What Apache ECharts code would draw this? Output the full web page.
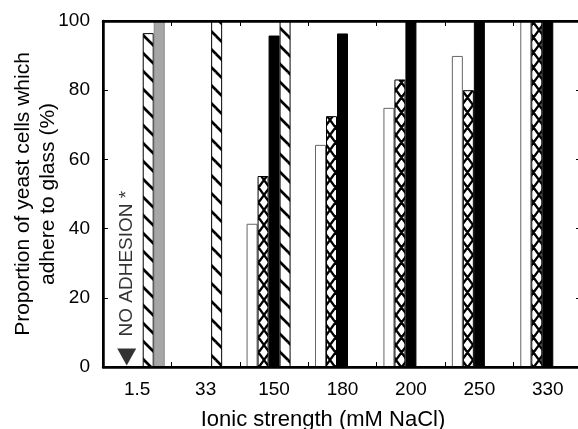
<!DOCTYPE html>
<html><head><meta charset="utf-8">
<script src="https://cdn.jsdelivr.net/npm/echarts@6/dist/echarts.min.js"></script>
<style>html,body{margin:0;padding:0;background:#fff;overflow:hidden}#c{width:583px;height:429px}</style>
</head><body><div id="c"></div>
<script>
// ---- data ----
const categories = ['1.5', '33', '150', '180', '200', '250', '330'];
const openBars  = [null, null, 41.4, 64.2, 74.9, 89.9, 100];
const crossBars = [null, null, 55.2, 72.5, 83.1, 80.0, 100];
const solidBars = [null, null, 95.8, 96.4, 100, 100, 100];
const hatchBars = [96.5, 100, 100, null, null, null, null];
const greyBars  = [100, null, null, null, null, null, null];
const noAdhesion = [['1.5', 0]];
const noAdhesionText = 'NO ADHESION *';
const yMin = 0, yMax = 100, yStep = 20;
const xTitle = 'Ionic strength (mM NaCl)';
const yTitle = 'Proportion of yeast cells which\nadhere to glass (%)';

// ---- patterns ----
function tile(w, h, lines, lw) {
  const c = document.createElement('canvas');
  c.width = w; c.height = h;
  const g = c.getContext('2d');
  g.fillStyle = '#fff'; g.fillRect(0, 0, w, h);
  g.strokeStyle = '#000'; g.lineWidth = lw; g.lineCap = 'butt';
  g.beginPath();
  for (const [x1, y1, x2, y2] of lines) {
    for (const dx of [-w, 0, w]) for (const dy of [-h, 0, h]) {
      g.moveTo(x1 + dx, y1 + dy); g.lineTo(x2 + dx, y2 + dy);
    }
  }
  g.stroke();
  return c;
}
const hatchImg = tile(18, 18, [[0, 0, 18, 18]], 2.7);
const crossImg = tile(11, 15, [[0, 0, 11, 15], [11, 0, 0, 15]], 2.3);

const FONT = '"Liberation Sans", Arial, sans-serif';
const mkLine = () => ({ show: true, onZero: false, lineStyle: { color: '#000', width: 2.5 } });
const mkTick = (len) => ({ show: true, inside: true, length: len, lineStyle: { color: '#000', width: 1 } });

const chart = echarts.init(document.getElementById('c'), null, { renderer: 'canvas' });
chart.setOption({
  animation: false,
  textStyle: { fontFamily: FONT, color: '#000' },
  grid: { show: true, z: 10, borderColor: '#000', borderWidth: 2, backgroundColor: 'rgba(0,0,0,0)',
          left: 103, right: 1, top: 21, bottom: 62, outerBoundsMode: 'none' },
  xAxis: [
    {
      type: 'category', data: categories, position: 'bottom', z: 10,
      axisLine: mkLine(), axisTick: mkTick(5),
      axisLabel: { fontSize: 19, color: '#000', margin: 13, fontFamily: FONT },
      name: xTitle, nameLocation: 'middle', nameGap: 42, nameMoveOverlap: false,
      nameTextStyle: { fontSize: 22, color: '#000', padding: [0, 39, 0, 0], fontFamily: FONT }
    },
    {
      type: 'category', data: categories, position: 'top', z: 10,
      axisLine: mkLine(), axisTick: mkTick(5), axisLabel: { show: false }
    }
  ],
  yAxis: [
    {
      type: 'value', min: yMin, max: yMax, interval: yStep, position: 'left', z: 10,
      axisLine: mkLine(), axisTick: mkTick(5), splitLine: { show: false },
      axisLabel: { fontSize: 19, color: '#000', margin: 13, fontFamily: FONT },
      name: yTitle, nameLocation: 'middle', nameGap: 42, nameMoveOverlap: false,
      nameTextStyle: { fontSize: 21, lineHeight: 25, color: '#000', fontFamily: FONT }
    },
    {
      type: 'value', min: yMin, max: yMax, interval: yStep, position: 'right', z: 10,
      axisLine: mkLine(), axisTick: mkTick(6),
      splitLine: { show: false }, axisLabel: { show: false }
    }
  ],
  series: [
    { type: 'bar', data: openBars, barWidth: 11, barGap: '0%',
      itemStyle: { color: '#fff', borderColor: '#666', borderWidth: 1 } },
    { type: 'bar', data: crossBars, barWidth: 11, barGap: '0%',
      itemStyle: { color: { image: crossImg, repeat: 'repeat' }, borderColor: '#000', borderWidth: 1 } },
    { type: 'bar', data: solidBars, barWidth: 11, barGap: '0%',
      itemStyle: { color: '#000', borderColor: '#000', borderWidth: 1 } },
    { type: 'bar', data: hatchBars, barWidth: 11, barGap: '0%',
      itemStyle: { color: { image: hatchImg, repeat: 'repeat' }, borderColor: '#000', borderWidth: 1 } },
    { type: 'bar', data: greyBars, barWidth: 11, barGap: '0%',
      itemStyle: { color: '#a6a6a6', borderColor: '#888', borderWidth: 1 } },
    { type: 'scatter', data: noAdhesion, z: 5,
      symbol: 'triangle', symbolRotate: 180, symbolSize: [19, 17], symbolOffset: [-10.5, -10],
      itemStyle: { color: '#000' },
      label: { show: true, formatter: noAdhesionText, position: 'top', distance: 12, rotate: 90,
               align: 'left', verticalAlign: 'middle', fontSize: 19, color: '#000', fontFamily: FONT } }
  ]
});
</script>
</body></html>
